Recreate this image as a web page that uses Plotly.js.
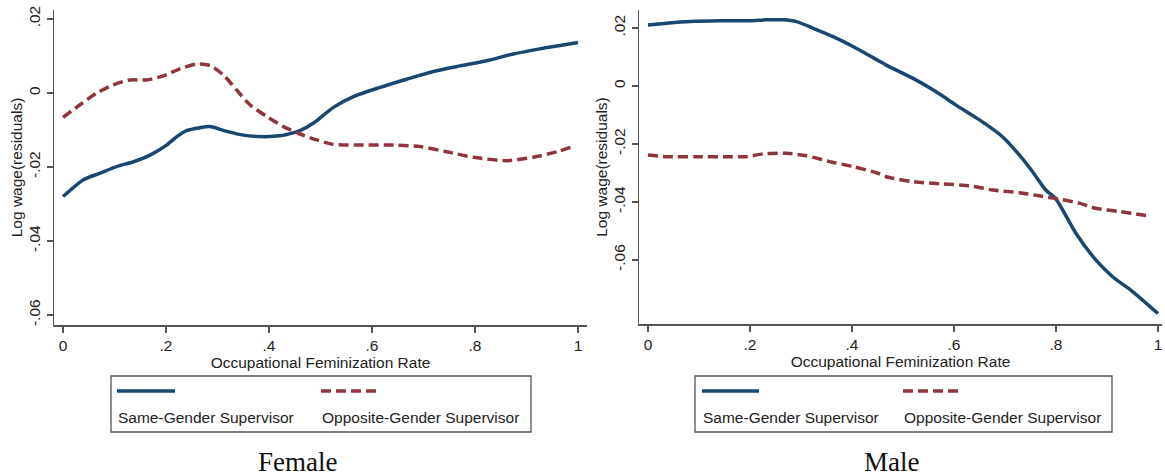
<!DOCTYPE html>
<html><head><meta charset="utf-8">
<script src="https://cdn.plot.ly/plotly-3.0.1.min.js"></script>
<style>html,body{margin:0;padding:0;background:#fff}#chart{width:1165px;height:476px}</style>
</head><body><div id="chart"></div>
<script>
// ---- data ----
const femaleSameX = [0,0.039,0.072,0.104,0.137,0.169,0.201,0.221,0.240,0.266,0.285,0.318,0.350,0.383,0.421,0.447,0.460,0.486,0.525,0.564,0.616,0.667,0.719,0.771,0.823,0.874,0.926,1.0];
const femaleSameY = [-0.0280,-0.0235,-0.0217,-0.0199,-0.0186,-0.0168,-0.0141,-0.0118,-0.0102,-0.0094,-0.0091,-0.0104,-0.0114,-0.0118,-0.0116,-0.0108,-0.0102,-0.0082,-0.0039,-0.0010,0.0015,0.0037,0.0058,0.0073,0.0087,0.0105,0.0119,0.0136];
const femaleOppX = [0,0.033,0.065,0.098,0.130,0.162,0.195,0.227,0.260,0.285,0.311,0.337,0.363,0.396,0.428,0.460,0.493,0.525,0.583,0.648,0.693,0.745,0.797,0.862,0.913,0.959,0.99];
const femaleOppY = [-0.0066,-0.0032,-0.0001,0.0022,0.0035,0.0035,0.0046,0.0065,0.0078,0.0074,0.0049,0.0008,-0.0032,-0.0064,-0.0091,-0.0111,-0.0127,-0.0139,-0.0141,-0.0141,-0.0145,-0.0159,-0.0174,-0.0183,-0.0174,-0.0159,-0.0145];
const maleSameX = [0,0.037,0.082,0.141,0.200,0.232,0.265,0.291,0.324,0.363,0.402,0.451,0.467,0.519,0.565,0.604,0.650,0.695,0.728,0.754,0.780,0.800,0.839,0.878,0.911,0.950,1.0];
const maleSameY = [0.0210,0.0216,0.0222,0.0225,0.0225,0.0228,0.0228,0.0222,0.0199,0.0170,0.0136,0.0088,0.0072,0.0027,-0.0020,-0.0066,-0.0117,-0.0175,-0.0238,-0.0296,-0.0359,-0.0390,-0.0508,-0.0600,-0.0658,-0.0709,-0.0785];
const maleOppX = [0,0.037,0.095,0.160,0.193,0.226,0.271,0.311,0.356,0.402,0.451,0.467,0.519,0.578,0.630,0.676,0.728,0.767,0.806,0.845,0.878,0.924,0.982];
const maleOppY = [-0.0238,-0.0244,-0.0244,-0.0244,-0.0244,-0.0234,-0.0232,-0.0241,-0.0261,-0.0278,-0.0301,-0.0313,-0.0330,-0.0338,-0.0344,-0.0359,-0.0368,-0.0379,-0.0390,-0.0404,-0.0422,-0.0433,-0.0448];

const xTickVals = [0,0.2,0.4,0.6,0.8,1];
const xTickText = ['0','.2','.4','.6','.8','1'];
const yTickVals = [0.02,0,-0.02,-0.04,-0.06];
const yTickText = ['.02','0','-.02','-.04','-.06'];
const seriesNames = ['Same-Gender Supervisor','Opposite-Gender Supervisor'];
const panelCaptions = ['Female','Male'];
const xTitle = 'Occupational Feminization Rate';
const yTitle = 'Log wage(residuals)';

// ---- styling ----
const W = 1165, H = 476;
const NAVY = '#1a476f', MAROON = '#90353b';
const AX = '#555555', TXT = '#222222';
const SANS = 'Liberation Sans, Arial, sans-serif';
const SERIF = 'Liberation Serif, Times New Roman, serif';
const FS = 15.5;
const DASH = '10px,5px';
const px = v => v / W;
const py = v => 1 - v / H;

function line(x, y, color, dash, xa, ya) {
  return {x: x, y: y, type: 'scatter', mode: 'lines', xaxis: xa, yaxis: ya, showlegend: false,
    hoverinfo: 'skip',
    line: {color: color, width: 3.5, dash: dash, shape: 'spline', smoothing: 0.7}};
}

const data = [
  line(femaleSameX, femaleSameY, NAVY, 'solid', 'x', 'y'),
  line(femaleOppX, femaleOppY, MAROON, DASH, 'x', 'y'),
  line(maleSameX, maleSameY, NAVY, 'solid', 'x2', 'y2'),
  line(maleOppX, maleOppY, MAROON, DASH, 'x2', 'y2')
];

function xaxis(domain, range, anchor) {
  return {domain: domain, range: range, anchor: anchor, showgrid: false, zeroline: false,
    showline: true, linecolor: AX, linewidth: 1.5, ticks: 'outside', ticklen: 6, tickwidth: 1.5, tickcolor: AX,
    tickmode: 'array', tickvals: xTickVals, ticktext: xTickText,
    tickfont: {family: SANS, size: FS, color: TXT},
    title: {text: xTitle, font: {family: SANS, size: FS, color: TXT}, standoff: 2}, fixedrange: true};
}
function yaxis(domain, range, anchor) {
  return {domain: domain, range: range, anchor: anchor, showgrid: false, zeroline: false,
    showline: true, linecolor: AX, linewidth: 1.5, ticks: 'outside', ticklen: 6, tickwidth: 1.5, tickcolor: AX,
    tickmode: 'array', tickvals: yTickVals, ticktext: yTickText, tickangle: -90,
    tickfont: {family: SANS, size: FS, color: TXT},
    title: {text: yTitle, font: {family: SANS, size: FS, color: TXT}, standoff: 0}, fixedrange: true};
}

const shapes = [];
const annotations = [];
const legends = [
  {box: [111, 531], solid: [117, 175], dash: [321, 378]},
  {box: [695, 1112], solid: [702, 759], dash: [903, 961]}
];
legends.forEach(L => {
  shapes.push({type: 'rect', xref: 'paper', yref: 'paper', x0: px(L.box[0]), x1: px(L.box[1]),
    y0: py(376), y1: py(432), line: {color: AX, width: 1.3}, fillcolor: 'rgba(0,0,0,0)'});
  shapes.push({type: 'line', xref: 'paper', yref: 'paper', x0: px(L.solid[0]), x1: px(L.solid[1]),
    y0: py(391), y1: py(391), line: {color: NAVY, width: 3.5}});
  shapes.push({type: 'line', xref: 'paper', yref: 'paper', x0: px(L.dash[0]), x1: px(L.dash[1]),
    y0: py(391), y1: py(391), line: {color: MAROON, width: 3.5, dash: DASH}});
  [L.solid[0], L.dash[0]].forEach((x0, i) => {
    annotations.push({xref: 'paper', yref: 'paper', x: px(x0 - 1), y: py(417), xanchor: 'left', yanchor: 'middle',
      showarrow: false, text: seriesNames[i], font: {family: SANS, size: FS, color: TXT}});
  });
});
[297, 891].forEach((cx, i) => {
  annotations.push({xref: 'paper', yref: 'paper', x: px(cx), y: py(462), xanchor: 'center', yanchor: 'middle',
    showarrow: false, text: panelCaptions[i], font: {family: SERIF, size: 27, color: '#111'}});
});

const layout = {
  width: W, height: H, margin: {l: 0, r: 0, t: 0, b: 0},
  paper_bgcolor: '#fff', plot_bgcolor: '#fff', showlegend: false,
  xaxis: xaxis([px(54), px(587)], [-0.0175, 1.0175], 'y'),
  yaxis: yaxis([py(325), py(10)], [-0.0627, 0.0224], 'x'),
  xaxis2: xaxis([px(639), px(1162)], [-0.0176, 1.0078], 'y2'),
  yaxis2: yaxis([py(324), py(10)], [-0.0821, 0.0262], 'x2'),
  shapes: shapes, annotations: annotations
};

Plotly.newPlot('chart', data, layout, {displayModeBar: false, staticPlot: true});
</script></body></html>
